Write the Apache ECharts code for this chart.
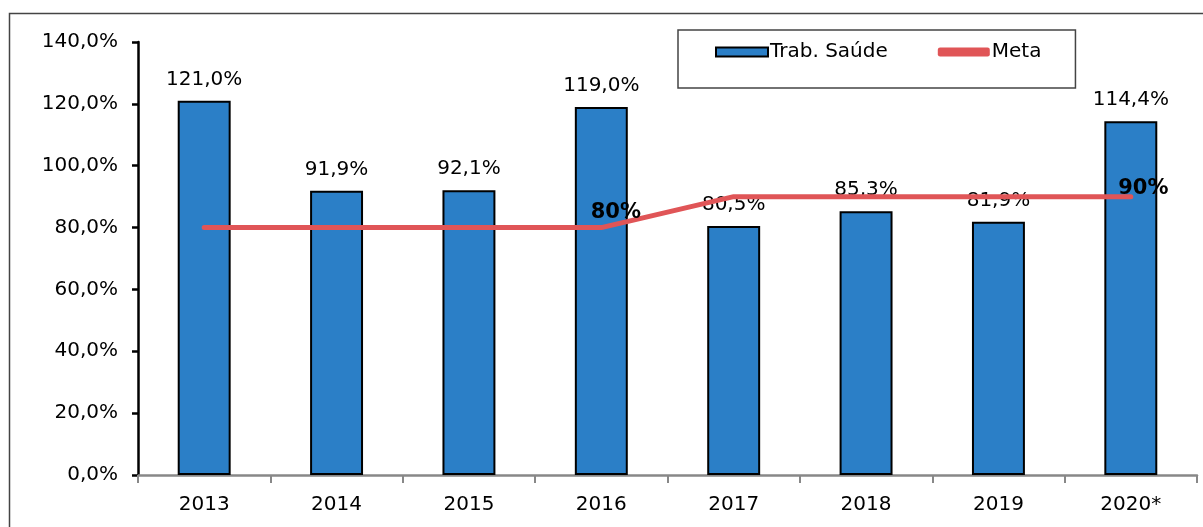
<!DOCTYPE html>
<html>
<head>
<meta charset="utf-8">
<script src="https://cdn.jsdelivr.net/npm/echarts@6/dist/echarts.min.js"></script>
<style>
    html, body { margin: 0; padding: 0; background: #fff; }
    #chart { width: 1203px; height: 527px; }
</style>
</head>
<body>
<div id="chart"></div>
<script>
// dados do gráfico
const anos = ['2013', '2014', '2015', '2016', '2017', '2018', '2019', '2020*'];
const trabSaude = [121.0, 91.9, 92.1, 119.0, 80.5, 85.3, 81.9, 114.4];
const meta = [80, 80, 80, 80, 90, 90, 90, 90];
// rótulos da meta só em 2016 e 2020*
const metaRotulos = ['', '', '', '80%', '', '', '', '90%'];

const fonte = 'DejaVu Sans, Verdana, sans-serif';
const tam = 20;

function fmtPct(v) {
    return v.toFixed(1).replace('.', ',') + '%';
}

const myChart = echarts.init(document.getElementById('chart'));

const metaData = meta.map((v, i) => {
    const item = { value: v };
    if (metaRotulos[i]) {
        item.label = { position: i === 7 ? [13, -8] : [15, -15] };
    }
    return item;
});

const option = {
    animation: false,
    textStyle: { fontFamily: fonte },
    graphic: [
        {
            type: 'rect',
            shape: { x: 9.5, y: 13.5, width: 1210, height: 600 },
            style: { fill: 'none', stroke: '#444', lineWidth: 1.5 },
            z: -1
        }
    ],
    legend: {
        top: 30,
        left: 678,
        itemGap: 50,
        padding: [12, 34, 26, 37],
        borderColor: '#444',
        borderWidth: 1.5,
        itemWidth: 52,
        itemHeight: 9,
        textStyle: { fontSize: tam, color: '#000', fontFamily: fonte, padding: [0, 0, 0, -3] },
        data: [
            { name: 'Trab. Saúde', icon: 'rect', itemStyle: { color: '#2b7fc7', borderColor: '#000', borderWidth: 2 } },
            { name: 'Meta', icon: 'roundRect', itemStyle: { color: '#e05557', borderWidth: 0, opacity: 1 } }
        ]
    },
    grid: {
        left: 138,
        right: 6,
        top: 42,
        bottom: 52,
        containLabel: false
    },
    xAxis: {
        type: 'category',
        data: anos,
        axisLine: { lineStyle: { color: '#888', width: 2.5 } },
        axisTick: { show: true, length: 8, lineStyle: { color: '#888', width: 2 } },
        axisLabel: { fontSize: tam, color: '#000', margin: 20, fontFamily: fonte },
        splitLine: { show: false }
    },
    yAxis: {
        type: 'value',
        min: 0,
        max: 140,
        interval: 20,
        axisLine: { show: true, lineStyle: { color: '#000', width: 2.5 } },
        axisTick: { show: true, length: 6, lineStyle: { color: '#000', width: 2.5 } },
        axisLabel: {
            fontSize: tam, color: '#000', margin: 20, fontFamily: fonte,
            formatter: v => fmtPct(v)
        },
        splitLine: { show: false }
    },
    series: [
        {
            name: 'Trab. Saúde',
            type: 'bar',
            data: trabSaude,
            barWidth: '40%',
            itemStyle: { color: '#2b7fc7', borderColor: '#000', borderWidth: 2 },
            label: {
                show: true,
                position: 'top',
                distance: 11,
                fontSize: tam,
                color: '#000',
                fontFamily: fonte,
                formatter: p => fmtPct(p.value)
            },
            z: 2
        },
        {
            name: 'Meta',
            type: 'line',
            data: metaData,
            symbol: 'circle',
            symbolSize: 1,
            showSymbol: true,
            lineStyle: { color: '#e05557', width: 5, cap: 'round' },
            itemStyle: { color: 'rgba(0,0,0,0)' },
            label: {
                show: true,
                position: 'top',
                align: 'center',
                verticalAlign: 'middle',
                fontSize: 21,
                fontWeight: 'bold',
                color: '#000',
                fontFamily: fonte,
                formatter: p => metaRotulos[p.dataIndex]
            },
            labelLayout: { hideOverlap: false },
            z: 3
        }
    ]
};

myChart.setOption(option);
</script>
</body>
</html>
